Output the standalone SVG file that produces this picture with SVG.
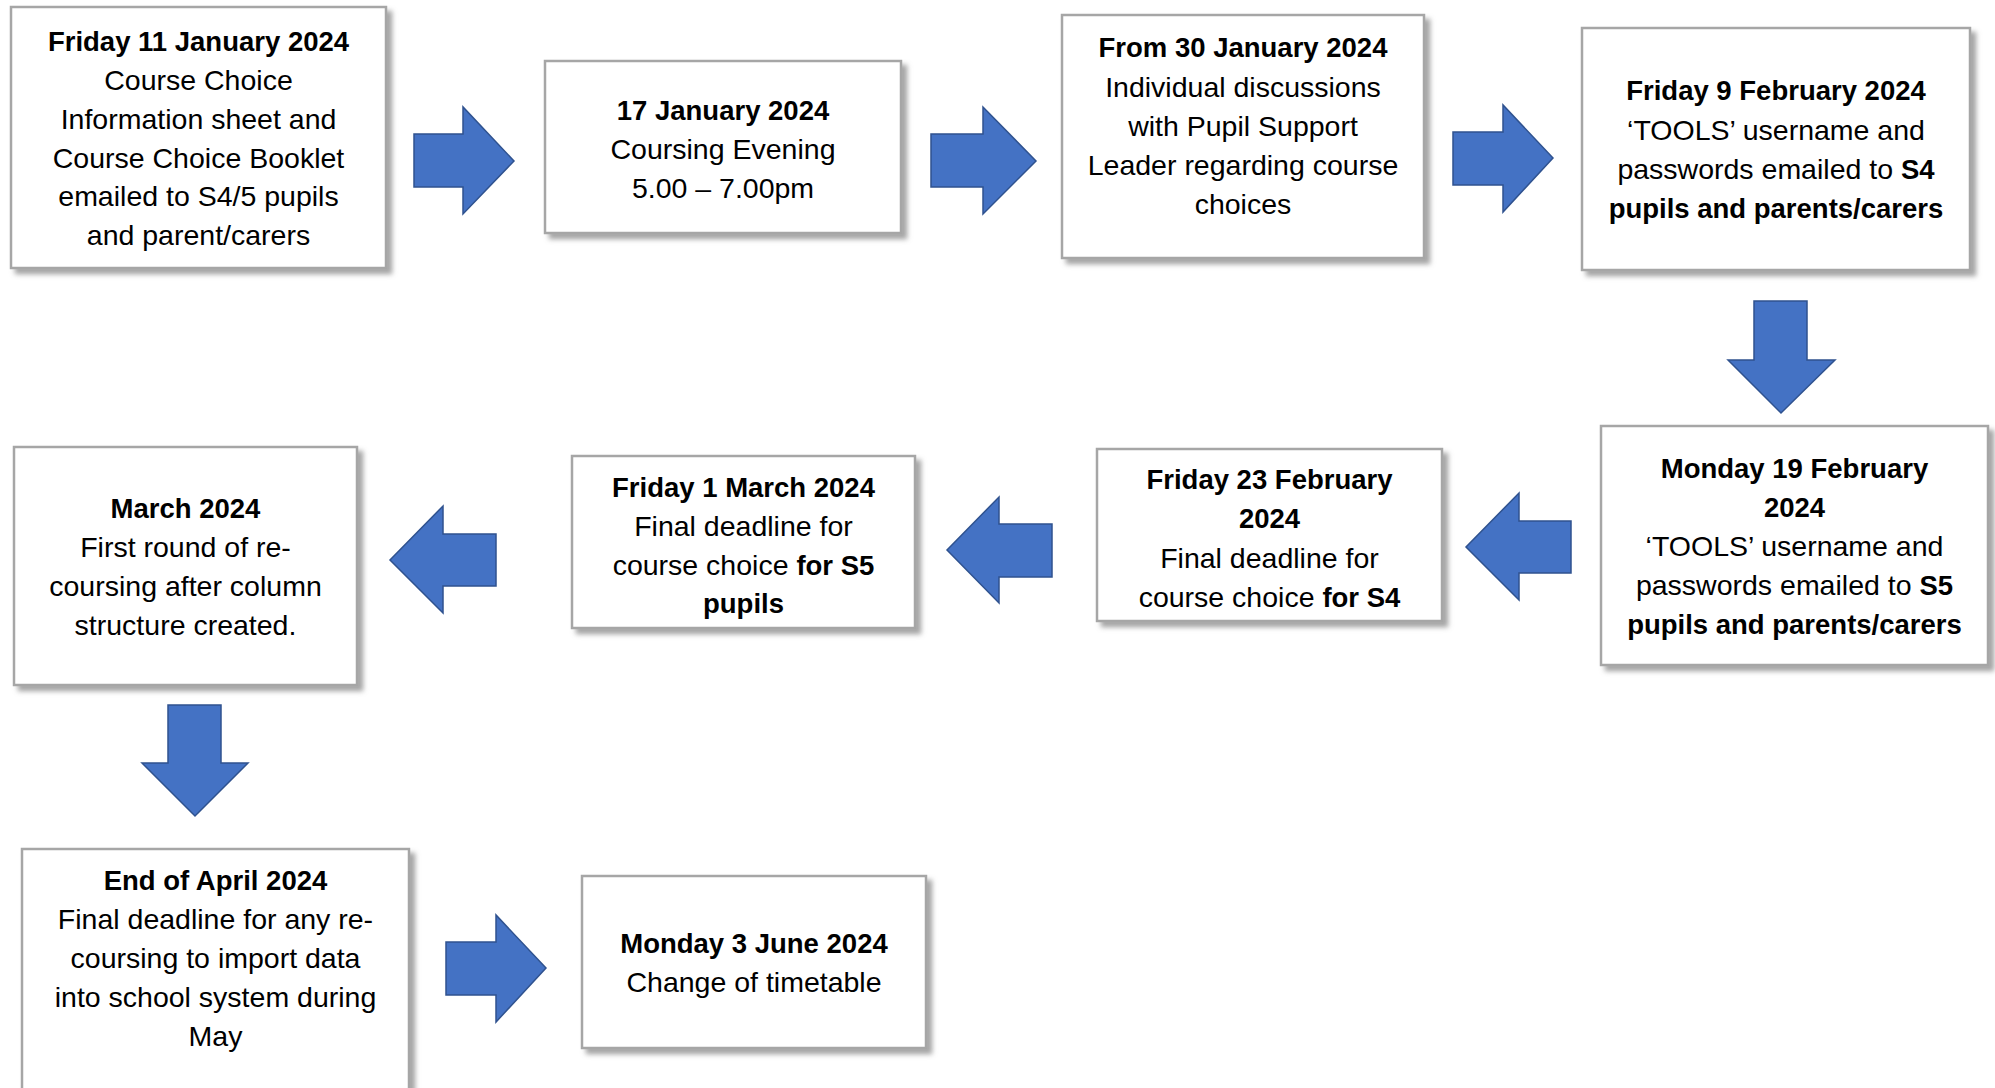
<svg xmlns="http://www.w3.org/2000/svg" width="1995" height="1088" viewBox="0 0 1995 1088">
  <defs>
    <filter id="shadow" x="-5%" y="-5%" width="115%" height="120%">
      <feDropShadow dx="5" dy="5" stdDeviation="2.5" flood-color="#7f7f7f" flood-opacity="0.7"/>
    </filter>
  </defs>
  <style>
    .box { fill: #ffffff; stroke: #a6a6a6; stroke-width: 2.5; filter: url(#shadow); }
    .arrow { fill: #4472c4; stroke: #2f528f; stroke-width: 1.5; stroke-linejoin: miter; }
    text { font-family: "Liberation Sans", Arial, sans-serif; font-size: 28.5px; fill: #000000; text-anchor: middle; }
    .b { font-weight: bold; font-size: 27.5px; }
  </style>

  <rect width="1995" height="1088" fill="#ffffff"/>

  <!-- Connectors: block arrows between steps -->
  <g id="connectors">
    <polygon class="arrow" points="414,134 463,134 463,107 514,161 463,214 463,187 414,187"/>
    <polygon class="arrow" points="931,134 983,134 983,107 1036,161 983,214 983,187 931,187"/>
    <polygon class="arrow" points="1453,132 1503,132 1503,105 1553,158 1503,212 1503,185 1453,185"/>
    <polygon class="arrow" points="1754,301 1807,301 1807,360 1835,360 1781,413 1728,360 1754,360"/>
    <polygon class="arrow" points="1571,521 1519,521 1519,493 1466,547 1519,600 1519,573 1571,573"/>
    <polygon class="arrow" points="1052,524 999,524 999,497 947,550 999,603 999,577 1052,577"/>
    <polygon class="arrow" points="496,534 443,534 443,506 390,560 443,613 443,586 496,586"/>
    <polygon class="arrow" points="168,705 221,705 221,763 248,763 195,816 142,763 168,763"/>
    <polygon class="arrow" points="446,942 496,942 496,915 546,968 496,1022 496,995 446,995"/>
  </g>

  <g id="step-info-sheet">
    <rect class="box" x="11" y="7" width="375" height="261"/>
    <text x="198.5" y="51" class="b">Friday 11 January 2024</text>
    <text x="198.5" y="90">Course Choice</text>
    <text x="198.5" y="129">Information sheet and</text>
    <text x="198.5" y="168">Course Choice Booklet</text>
    <text x="198.5" y="206">emailed to S4/5 pupils</text>
    <text x="198.5" y="245">and parent/carers</text>
  </g>

  <g id="step-coursing-evening">
    <rect class="box" x="545" y="61" width="356" height="172"/>
    <text x="723" y="120" class="b">17 January 2024</text>
    <text x="723" y="159">Coursing Evening</text>
    <text x="723" y="198">5.00 – 7.00pm</text>
  </g>

  <g id="step-discussions">
    <rect class="box" x="1062" y="15" width="362" height="243"/>
    <text x="1243" y="57" class="b">From 30 January 2024</text>
    <text x="1243" y="96.5">Individual discussions</text>
    <text x="1243" y="136">with Pupil Support</text>
    <text x="1243" y="175">Leader regarding course</text>
    <text x="1243" y="214">choices</text>
  </g>

  <g id="step-tools-s4">
    <rect class="box" x="1582" y="28" width="388" height="242"/>
    <text x="1776" y="100" class="b">Friday 9 February 2024</text>
    <text x="1776" y="139.5">‘TOOLS’ username and</text>
    <text x="1776" y="179">passwords emailed to <tspan class="b">S4</tspan></text>
    <text x="1776" y="218" class="b">pupils and parents/carers</text>
  </g>

  <g id="step-tools-s5">
    <rect class="box" x="1601" y="426" width="387" height="239"/>
    <text x="1794.5" y="478" class="b">Monday 19 February</text>
    <text x="1794.5" y="517" class="b">2024</text>
    <text x="1794.5" y="556">‘TOOLS’ username and</text>
    <text x="1794.5" y="595">passwords emailed to <tspan class="b">S5</tspan></text>
    <text x="1794.5" y="634" class="b">pupils and parents/carers</text>
  </g>

  <g id="step-deadline-s4">
    <rect class="box" x="1097" y="449" width="345" height="172"/>
    <text x="1269.5" y="489" class="b">Friday 23 February</text>
    <text x="1269.5" y="528" class="b">2024</text>
    <text x="1269.5" y="568">Final deadline for</text>
    <text x="1269.5" y="607">course choice <tspan class="b">for S4</tspan></text>
  </g>

  <g id="step-deadline-s5">
    <rect class="box" x="572" y="456" width="343" height="172"/>
    <text x="743.5" y="497" class="b">Friday 1 March 2024</text>
    <text x="743.5" y="536">Final deadline for</text>
    <text x="743.5" y="575">course choice <tspan class="b">for S5</tspan></text>
    <text x="743.5" y="613" class="b">pupils</text>
  </g>

  <g id="step-recoursing">
    <rect class="box" x="14" y="447" width="343" height="238"/>
    <text x="185.5" y="518" class="b">March 2024</text>
    <text x="185.5" y="557">First round of re-</text>
    <text x="185.5" y="596">coursing after column</text>
    <text x="185.5" y="635">structure created.</text>
  </g>

  <g id="step-final-import">
    <rect class="box" x="22" y="849" width="387" height="250"/>
    <text x="215.5" y="890" class="b">End of April 2024</text>
    <text x="215.5" y="929">Final deadline for any re-</text>
    <text x="215.5" y="968">coursing to import data</text>
    <text x="215.5" y="1007">into school system during</text>
    <text x="215.5" y="1046">May</text>
  </g>

  <g id="step-timetable">
    <rect class="box" x="582" y="876" width="344" height="172"/>
    <text x="754" y="953" class="b">Monday 3 June 2024</text>
    <text x="754" y="992">Change of timetable</text>
  </g>
</svg>
